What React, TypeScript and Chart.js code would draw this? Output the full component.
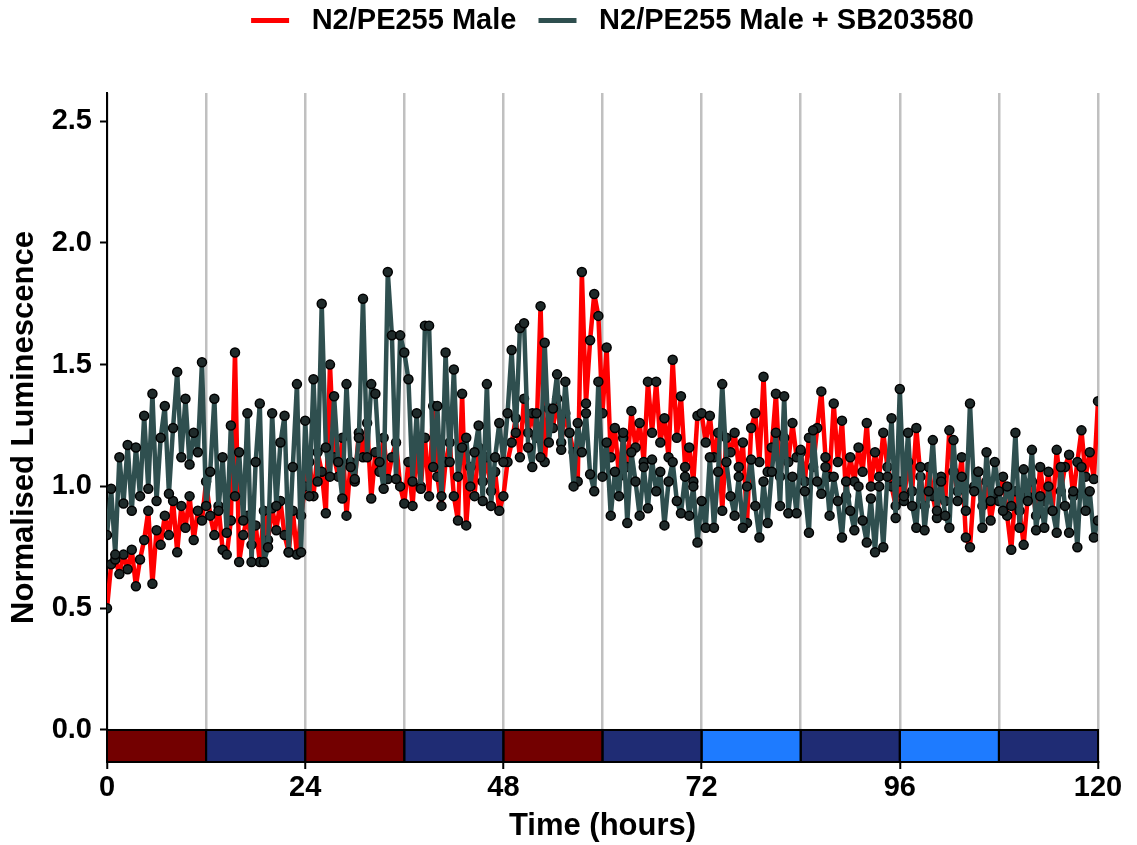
import React, { useEffect, useRef } from 'react';
import { Chart, registerables } from 'chart.js';

Chart.register(...registerables);

// ---------------- data ----------------
const SERIES_LABELS = ['N2/PE255 Male', 'N2/PE255 Male + SB203580'];
const SERIES_COLORS = ['#ff0000', '#2f4f4f'];

// sampled every 0.5 h, 0 .. 120 h
const SAMPLE_STEP_H = 0.5;

const RED_VALUES = [
  0.50, 0.68, 0.70, 0.64, 0.72, 0.66, 0.74, 0.59, 0.70, 0.78, 0.90, 0.60, 0.82, 0.76, 0.88, 0.80, 0.94, 0.73, 0.92, 0.83, 0.96, 0.78, 0.90, 0.86,
  1.02, 0.88, 0.80, 0.92, 0.74, 0.72, 0.86, 1.55, 0.69, 0.80, 0.88, 0.76, 0.84, 0.69, 0.90, 0.78, 0.91, 0.82, 0.94, 0.80, 0.73, 0.90, 0.72, 0.88,
  1.00, 1.10, 0.96, 1.14, 1.06, 0.89, 1.50, 1.12, 1.04, 1.20, 0.88, 1.10, 1.02, 1.22, 1.12, 1.26, 0.95, 1.14, 1.06, 1.20, 1.03, 1.12, 1.18, 1.00,
  0.93, 1.10, 0.92, 1.16, 1.00, 1.20, 0.96, 1.33, 1.04, 0.92, 1.10, 1.18, 0.96, 0.86, 1.38, 0.84, 1.08, 0.96, 1.16, 1.02, 1.12, 0.98, 1.06, 0.90,
  0.96, 1.10, 1.18, 1.28, 1.12, 1.36, 1.22, 1.30, 1.20, 1.74, 1.10, 1.32, 1.24, 1.36, 1.18, 1.30, 1.22, 1.14, 1.02, 1.88, 1.34, 1.60, 1.79, 1.70,
  1.30, 1.57, 1.12, 1.24, 1.04, 1.20, 1.08, 1.31, 1.16, 1.26, 1.10, 1.43, 1.22, 1.43, 1.18, 1.28, 1.12, 1.52, 1.20, 1.37, 1.08, 1.16, 1.02, 1.29,
  1.30, 1.18, 1.29, 1.12, 1.22, 0.90, 1.20, 1.14, 1.22, 1.08, 1.18, 0.85, 1.24, 1.30, 1.10, 1.45, 1.06, 1.16, 1.38, 1.04, 1.20, 1.10, 1.26, 1.12,
  1.14, 1.02, 1.20, 1.08, 1.24, 1.39, 1.12, 1.04, 1.34, 1.10, 1.27, 0.96, 1.12, 1.02, 1.16, 1.06, 1.26, 1.00, 1.14, 1.04, 1.22, 1.08, 1.00, 0.92,
  1.02, 0.94, 1.10, 0.98, 1.24, 1.04, 0.92, 1.08, 0.96, 0.87, 1.04, 0.94, 1.23, 1.06, 0.98, 1.12, 0.79, 0.75, 1.00, 1.06, 0.92, 1.02, 0.86, 0.96,
  0.94, 1.04, 0.88, 0.74, 0.98, 0.90, 0.76, 0.96, 1.02, 0.88, 1.08, 0.94, 1.06, 0.90, 1.15, 0.98, 1.08, 1.13, 0.96, 1.10, 1.23, 1.04, 1.14, 1.03,
  1.35,
];

const SB_VALUES = [
  0.80, 0.99, 0.72, 1.12, 0.93, 1.17, 0.90, 1.16, 0.96, 1.29, 0.99, 1.38, 0.94, 1.20, 1.33, 0.97, 1.24, 1.47, 1.12, 1.36, 1.09, 1.22, 1.14, 1.51,
  0.92, 1.06, 1.36, 0.90, 1.12, 0.81, 1.25, 0.96, 1.14, 0.86, 1.30, 0.69, 1.10, 1.34, 0.69, 0.75, 1.30, 0.92, 1.18, 1.29, 0.73, 1.08, 1.42, 0.73,
  1.27, 0.96, 1.44, 1.02, 1.75, 1.16, 1.04, 1.37, 1.10, 0.95, 1.42, 1.08, 1.03, 1.20, 1.77, 1.12, 1.42, 1.38, 1.10, 0.99, 1.88, 1.62, 1.03, 1.62,
  1.55, 1.44, 1.02, 1.30, 0.99, 1.66, 1.66, 1.08, 1.33, 0.96, 1.55, 1.10, 1.48, 1.04, 1.16, 1.20, 1.00, 1.14, 1.25, 0.94, 1.42, 0.92, 1.12, 1.26,
  1.10, 1.30, 1.56, 1.22, 1.65, 1.67, 1.16, 1.08, 1.30, 1.12, 1.59, 1.18, 1.32, 1.46, 1.15, 1.43, 1.22, 1.00, 1.26, 1.14, 1.30, 1.05, 0.98, 1.43,
  1.04, 1.18, 0.88, 1.06, 0.96, 1.22, 0.85, 1.14, 1.02, 0.88, 1.08, 0.91, 1.11, 0.98, 1.06, 0.84, 1.02, 1.10, 0.94, 0.89, 1.04, 0.88, 1.00, 0.77,
  0.94, 0.83, 1.12, 0.83, 1.06, 1.42, 1.10, 0.96, 0.88, 1.04, 0.83, 1.00, 1.11, 0.92, 0.79, 1.02, 0.85, 1.06, 1.22, 0.92, 1.37, 0.89, 1.04, 0.89,
  1.15, 0.98, 0.81, 1.23, 1.02, 0.97, 1.08, 0.88, 1.04, 0.94, 0.79, 1.02, 0.90, 0.82, 1.00, 0.86, 0.77, 0.95, 0.73, 1.00, 0.75, 1.04, 1.28, 0.87,
  1.40, 0.96, 1.22, 0.92, 0.83, 1.08, 0.82, 0.98, 1.19, 0.90, 1.02, 0.88, 0.83, 1.19, 0.94, 1.04, 0.90, 1.34, 0.98, 1.06, 0.83, 1.14, 0.94, 1.10,
  0.98, 0.90, 1.00, 0.92, 1.22, 0.83, 1.07, 0.94, 1.15, 0.82, 0.96, 0.83, 1.00, 0.90, 0.81, 1.08, 0.92, 0.81, 0.98, 0.75, 1.08, 0.90, 0.98, 0.79,
  0.86,
];

// x axis: grid every 12 h, labels every 24 h
const X_GRID_HOURS = [0, 12, 24, 36, 48, 60, 72, 84, 96, 108, 120];
const X_LABEL_HOURS = [0, 24, 48, 72, 96, 120];
const Y_TICKS = [0, 0.5, 1.0, 1.5, 2.0, 2.5];

// light/dark condition bar along the bottom
const BAND_EDGES = [0, 12, 24, 36, 48, 60, 72, 84, 96, 108, 120];
const BAND_COLORS = [
  '#730000', '#1f2c74', '#730000', '#1f2c74', '#730000',
  '#1f2c74', '#1e7bff', '#1f2c74', '#1e7bff', '#1f2c74',
];

const Y_MIN = -0.1314;
const Y_MAX = 2.615;

const FONT = "'Liberation Sans', Arial, Helvetica, sans-serif";

const bandPlugin = {
  id: 'ldBand',
  beforeDatasetsDraw(chart: any) {
    const { ctx, chartArea, scales } = chart;
    const x = scales.x;
    const y = scales.y;
    const top = y.getPixelForValue(0);
    const bottom = chartArea.bottom;
    ctx.save();
    for (let i = 0; i < BAND_COLORS.length; i++) {
      const x0 = x.getPixelForValue(BAND_EDGES[i]);
      const x1 = x.getPixelForValue(BAND_EDGES[i + 1]);
      ctx.fillStyle = BAND_COLORS[i];
      ctx.fillRect(x0, top, x1 - x0, bottom - top);
    }
    ctx.strokeStyle = '#000';
    ctx.lineWidth = 2;
    for (let i = 0; i < BAND_COLORS.length; i++) {
      const x0 = x.getPixelForValue(BAND_EDGES[i]);
      const x1 = x.getPixelForValue(BAND_EDGES[i + 1]);
      ctx.strokeRect(x0, top, x1 - x0, bottom - top);
    }
    ctx.restore();
  },
};

// fixes the legend band height and nudges it to sit centred like the reference
const legendLayoutPlugin = {
  id: 'legendLayout',
  beforeLayout(chart: any) {
    const lg = chart.legend;
    if (lg && !lg.__patched) {
      const fit = lg.fit.bind(lg);
      lg.fit = function () {
        fit();
        this.height = 93;
      };
      const draw = lg.draw.bind(lg);
      lg.draw = function () {
        const ctx = this.ctx;
        ctx.save();
        ctx.translate(10, 0);
        draw();
        ctx.restore();
      };
      lg.__patched = true;
    }
  },
};

export default function App() {
  const canvasRef = useRef<HTMLCanvasElement | null>(null);

  useEffect(() => {
    const canvas = canvasRef.current;
    if (!canvas) return;
    Chart.defaults.font.family = FONT;
    Chart.defaults.color = '#000';

    const toPoints = (vals: number[]) => vals.map((v, i) => ({ x: i * SAMPLE_STEP_H, y: v }));

    const lineStyle = {
      borderWidth: 4.5,
      borderJoinStyle: 'round',
      borderCapStyle: 'round',
      pointRadius: 4.5,
      pointBackgroundColor: '#1f2a2a',
      pointBorderColor: '#000',
      pointBorderWidth: 1.5,
      tension: 0,
    };

    const chart = new Chart(canvas, {
      type: 'line',
      data: {
        datasets: [
          {
            label: SERIES_LABELS[0],
            data: toPoints(RED_VALUES),
            borderColor: SERIES_COLORS[0],
            backgroundColor: SERIES_COLORS[0],
            ...lineStyle,
            order: 2,
          },
          {
            label: SERIES_LABELS[1],
            data: toPoints(SB_VALUES),
            borderColor: SERIES_COLORS[1],
            backgroundColor: SERIES_COLORS[1],
            ...lineStyle,
            order: 1,
          },
        ],
      },
      options: {
        animation: false,
        responsive: false,
        devicePixelRatio: 1,
        layout: { padding: { left: 0, right: 39, top: 0, bottom: 0 } },
        plugins: {
          tooltip: { enabled: false },
          legend: {
            display: true,
            position: 'top',
            fullSize: false,
            align: 'center',
            labels: {
              usePointStyle: true,
              pointStyleWidth: 38,
              padding: 6,
              color: '#000',
              font: { size: 29, weight: 'bold', family: FONT },
              generateLabels: () =>
                SERIES_LABELS.map((text, i) => ({
                  text: ' ' + text + (i === 0 ? '  ' : ''),
                  fillStyle: SERIES_COLORS[i],
                  strokeStyle: SERIES_COLORS[i],
                  lineWidth: 5,
                  pointStyle: 'line',
                  hidden: false,
                  datasetIndex: i,
                  fontColor: '#000',
                })),
            },
          },
        },
        scales: {
          x: {
            type: 'linear',
            min: 0,
            max: 120,
            afterBuildTicks: (s: any) => {
              s.ticks = X_GRID_HOURS.map((v) => ({ value: v }));
            },
            afterFit: (s: any) => {
              s.height = 83;
            },
            grid: {
              color: '#c0c0c0',
              lineWidth: 2.5,
              drawTicks: true,
              tickLength: 7,
              tickWidth: 2,
              tickColor: (c: any) =>
                c.tick && X_LABEL_HOURS.includes(c.tick.value) ? '#000' : 'rgba(0,0,0,0)',
            },
            border: { display: true, color: '#000', width: 2 },
            ticks: {
              autoSkip: false,
              maxRotation: 0,
              color: '#000',
              padding: 2,
              font: { size: 29, weight: 'bold', family: FONT },
              callback: (v: any) => (X_LABEL_HOURS.includes(Number(v)) ? String(v) : ''),
            },
            title: {
              display: true,
              text: 'Time (hours)',
              color: '#000',
              font: { size: 31, weight: 'bold', family: FONT },
              padding: { top: 0, bottom: 0 },
            },
          },
          y: {
            type: 'linear',
            min: Y_MIN,
            max: Y_MAX,
            afterBuildTicks: (s: any) => {
              s.ticks = Y_TICKS.map((v) => ({ value: v }));
            },
            afterFit: (s: any) => {
              s.width = 107;
            },
            grid: {
              drawOnChartArea: false,
              drawTicks: true,
              tickLength: 7,
              tickWidth: 2,
              tickColor: '#000',
            },
            border: { display: true, color: '#000', width: 2 },
            ticks: {
              color: '#000',
              padding: 8,
              font: { size: 29, weight: 'bold', family: FONT },
              callback: (v: any) => Number(v).toFixed(1),
            },
            title: {
              display: true,
              text: 'Normalised Luminescence',
              color: '#000',
              font: { size: 31, weight: 'bold', family: FONT },
              padding: { top: 6, bottom: 0 },
            },
          },
        },
      },
      plugins: [bandPlugin, legendLayoutPlugin],
    } as any);

    return () => chart.destroy();
  }, []);

  return (
    <div style={{ position: 'fixed', left: 0, top: 0, width: 1137, height: 845, background: '#fff' }}>
      <canvas ref={canvasRef} width={1137} height={845} style={{ display: 'block' }} />
    </div>
  );
}
